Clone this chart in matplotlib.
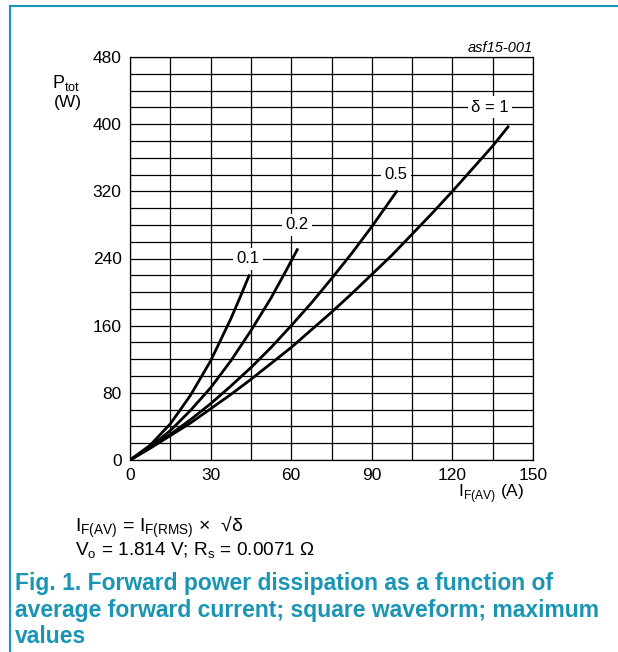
import matplotlib
matplotlib.use("Agg")
import matplotlib.pyplot as plt
from matplotlib.lines import Line2D

plt.rcParams['font.family'] = ['Liberation Sans', 'DejaVu Sans']
plt.rcParams['mathtext.fontset'] = 'custom'
plt.rcParams['mathtext.rm'] = 'Liberation Sans'

# data (I_F(AV) in A, P_tot in W)
i_d1 = [0, 7.5, 15, 22.5, 30, 37.5, 45, 52.5, 60, 67.5, 75, 82.5, 90, 97.5, 105, 112.5, 120, 127.5, 135, 141]
p_d1 = [0, 14, 29, 44, 61, 78, 96, 115, 134, 155, 176, 198, 221, 244, 269, 294, 320, 347, 374, 398]
i_d05 = [0, 7.5, 15, 22.5, 30, 37.5, 45, 52.5, 60, 67.5, 75, 82.5, 90, 99.5]
p_d05 = [0, 14.4, 30.4, 48, 67, 88, 110, 134, 160, 187, 216, 246, 278, 321]
i_d02 = [0, 7.5, 15, 22.5, 30, 37.5, 45, 52.5, 58, 62.5]
p_d02 = [0, 15.6, 35, 59, 86, 118, 154, 193, 225, 252]
i_d01 = [0, 7.5, 15, 22.5, 30, 37.5, 41, 44.5]
p_d01 = [0, 17.6, 43, 77, 118, 168, 194, 221]

curves = [(i_d1, p_d1), (i_d05, p_d05), (i_d02, p_d02), (i_d01, p_d01)]
labels = ["δ = 1", "0.5", "0.2", "0.1"]
label_pos = [(134, 420), (99, 340), (62, 280), (44, 240)]

x_ticks = [0, 30, 60, 90, 120, 150]
y_ticks = [0, 80, 160, 240, 320, 400, 480]

teal = '#1a95b3'

fig = plt.figure(figsize=(6.18, 6.52), dpi=100)
ax = fig.add_axes([130/618, 1 - 460/652, 403/618, 403/652])

for x in range(0, 151, 15):
    ax.axvline(x, color='black', lw=0.9, zorder=1)
for y in range(0, 481, 20):
    ax.axhline(y, color='black', lw=0.9, zorder=1)

for xs, ys in curves:
    ax.plot(xs, ys, color='black', lw=2.0, zorder=3, solid_capstyle='butt')

for lab, (lx, ly) in zip(labels, label_pos):
    ax.text(lx, ly, lab, ha='center', va='center', fontsize=12, zorder=4,
            bbox=dict(facecolor='white', edgecolor='none', pad=2.5))

ax.set_xlim(0, 150)
ax.set_ylim(0, 480)
ax.set_xticks(x_ticks)
ax.set_yticks(y_ticks)
ax.tick_params(length=0, labelsize=12.5, pad=6)
for s in ax.spines.values():
    s.set_linewidth(0.9)

# axis titles
fig.text(52/618, 1 - 83/652, r"P$_{\mathrm{tot}}$", fontsize=13, ha='left', va='center')
fig.text(54/618, 1 - 102/652, "(W)", fontsize=12.5, ha='left', va='center')
fig.text(524/618, 1 - 494/652, r"I$_{\mathrm{F(AV)}}$ (A)", fontsize=12.5, ha='right', va='center')
fig.text(533/618, 1 - 48/652, "asf15-001", fontsize=10.5, style='italic', ha='right', va='center')

# notes under the chart
fig.text(75/618, 1 - 527/652, r"I$_{\mathrm{F(AV)}}$ = I$_{\mathrm{F(RMS)}}$ ×  √δ", fontsize=14, ha='left', va='center')
fig.text(75/618, 1 - 551/652, r"V$_{\mathrm{o}}$ = 1.814 V; R$_{\mathrm{s}}$ = 0.0071 Ω", fontsize=13.7, ha='left', va='center')
fig.text(15/618, 1 - 610/652,
         "Fig. 1. Forward power dissipation as a function of\n"
         "average forward current; square waveform; maximum\n"
         "values", fontsize=16.5, fontweight='bold', color=teal,
         ha='left', va='center', linespacing=1.22)

# frame lines at the top and left
fig.add_artist(Line2D([10/618, 10/618], [0, 1 - 6/652], color=teal, lw=1.5))
fig.add_artist(Line2D([10/618, 1], [1 - 6/652, 1 - 6/652], color=teal, lw=1.5))

fig.savefig('out.png', dpi=100)
